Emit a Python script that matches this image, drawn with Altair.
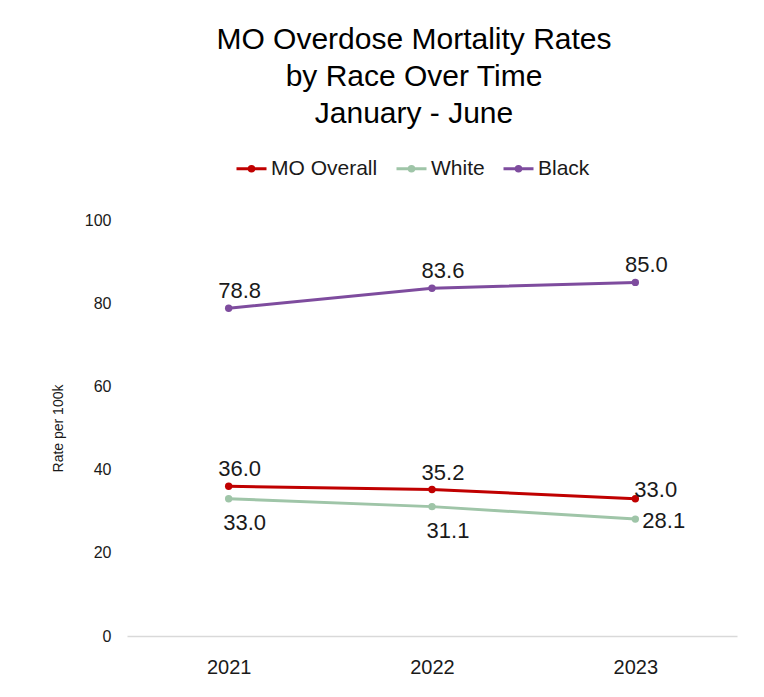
import altair as alt
import pandas as pd

years = ["2021", "2022", "2023"]
series = ["MO Overall", "White", "Black"]
mo_overall = [36.0, 35.2, 33.0]
white = [33.0, 31.1, 28.1]
black = [78.8, 83.6, 85.0]
y_ticks = [0, 20, 40, 60, 80, 100]
colors = ["#C00000", "#9FC5A8", "#7E4C9E"]
title_lines = ["MO Overdose Mortality Rates", "by Race Over Time", "January - June"]

rows = []
for name, vals in zip(series, [mo_overall, white, black]):
    for yr, v in zip(years, vals):
        rows.append({"Year": yr, "Series": name, "Rate": v})
df = pd.DataFrame(rows)

FONT = "Liberation Sans"
TXT = "#1a1a1a"

x = alt.X(
    "Year:N",
    sort=years,
    scale=alt.Scale(type="point", padding=0.5),
    axis=alt.Axis(
        title=None, labelAngle=0, labelFontSize=20, labelPadding=21,
        ticks=False, domainColor="#D9D9D9", domainWidth=1.5,
        labelColor=TXT, grid=False,
    ),
)
y = alt.Y(
    "Rate:Q",
    scale=alt.Scale(domain=[0, 100]),
    axis=alt.Axis(
        values=y_ticks, title="Rate per 100k", grid=False, domain=False,
        ticks=False, labelFontSize=16, labelPadding=16, labelColor=TXT,
        titleFontSize=14, titleFontWeight="normal", titlePadding=19,
        titleColor=TXT,
    ),
)

sym = "M-1,0L1,0M-0.15,0A0.15,0.15,0,1,1,0.15,0A0.15,0.15,0,1,1,-0.15,0Z"

color_leg = alt.Color(
    "Series:N",
    scale=alt.Scale(domain=series, range=colors),
    legend=alt.Legend(
        title=None, orient="none", direction="horizontal",
        legendX=108, legendY=-68, symbolType=sym, symbolSize=900,
        symbolStrokeWidth=3, labelFontSize=21, labelColor=TXT,
        columnPadding=12, padding=0, labelOffset=3,
    ),
)
color_none = alt.Color("Series:N", scale=alt.Scale(domain=series, range=colors), legend=None)

base = alt.Chart(df)

lines = base.mark_line(strokeWidth=3).encode(x=x, y=y, color=color_leg, order="Year:N")
points = base.mark_circle(size=55, opacity=1).encode(x=x, y=y, color=color_none)

lbl = dict(text=alt.Text("Rate:Q", format=".1f"))
tstyle = dict(fontSize=22, color=TXT)

above = base.transform_filter(
    "datum.Series == 'Black' || (datum.Series == 'MO Overall' && datum.Year != '2023')"
).mark_text(align="center", baseline="alphabetic", dx=11, dy=-10, **tstyle).encode(x=x, y=y, **lbl)

below = base.transform_filter(
    "datum.Series == 'White' && datum.Year != '2023'"
).mark_text(align="center", baseline="alphabetic", dx=16, dy=31, **tstyle).encode(x=x, y=y, **lbl)

right_mo = base.transform_filter(
    "datum.Series == 'MO Overall' && datum.Year == '2023'"
).mark_text(align="left", baseline="alphabetic", dx=-1, dy=-2, **tstyle).encode(x=x, y=y, **lbl)

right_w = base.transform_filter(
    "datum.Series == 'White' && datum.Year == '2023'"
).mark_text(align="left", baseline="alphabetic", dx=7, dy=9, **tstyle).encode(x=x, y=y, **lbl)

chart = alt.layer(lines, points, above, below, right_mo, right_w).properties(
    width=610,
    height=416,
    title=alt.TitleParams(
        text=title_lines, fontSize=30, fontWeight="normal", anchor="middle",
        frame="group", dx=-18, lineHeight=37, color="#000000", offset=23,
    ),
    padding={"left": 119, "top": 212, "right": 19, "bottom": 53},
    autosize=alt.AutoSizeParams(type="none"),
).configure(font=FONT).configure_view(stroke=None).configure_axis(labelFont=FONT, titleFont=FONT)

chart.save("out.html", embed_options={"renderer": "svg", "actions": False})
